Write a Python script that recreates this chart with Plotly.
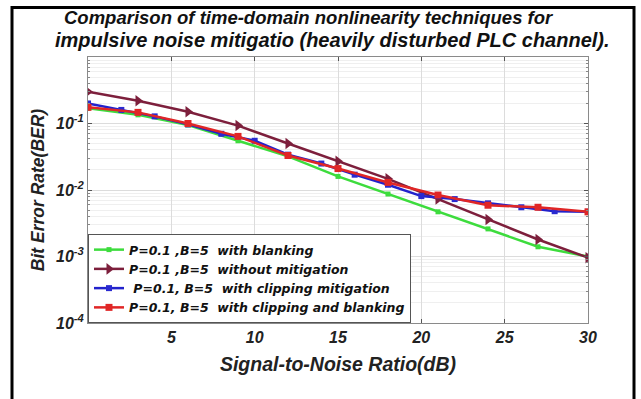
import plotly.graph_objects as go

# SNR grid (dB) and BER curves
snr_3db = [0, 3, 6, 9, 12, 15, 18, 21, 24, 27, 30]
snr_2db = [0, 2, 4, 6, 8, 10, 12, 14, 16, 18, 20, 22, 24, 26, 28, 30]

ber_blanking = [0.17, 0.135, 0.095, 0.055, 0.032, 0.016, 0.0087, 0.0047, 0.0026, 0.0014, 0.001]
ber_no_mitigation = [0.30, 0.22, 0.15, 0.093, 0.05, 0.027, 0.0147, 0.0073, 0.0036, 0.0018, 0.00096]
ber_clipping = [0.20, 0.16, 0.128, 0.097, 0.07, 0.055, 0.034, 0.025, 0.017, 0.012,
                0.0081, 0.0073, 0.0063, 0.0055, 0.0048, 0.0047]
ber_clip_blank = [0.175, 0.147, 0.10, 0.064, 0.033, 0.021, 0.013, 0.0084, 0.0059, 0.0055, 0.0047]

x_ticks = [5, 10, 15, 20, 25, 30]
y_ticks = [1e-4, 1e-3, 1e-2, 1e-1]
y_tick_text = ["10<sup>-4</sup>", "10<sup>-3</sup>", "10<sup>-2</sup>", "10<sup>-1</sup>"]

# minor log ticks 2..9 within each decade
y_minor = [m * 10.0 ** e for e in range(-4, 0) for m in range(2, 10)]

NB = "\u00a0"
names = [
    f"P=0.1 ,B=5{NB} with blanking",
    f"P=0.1 ,B=5{NB} without mitigation",
    f"{NB}P=0.1, B=5{NB} with clipping mitigation",
    f"P=0.1, B=5{NB} with clipping and blanking",
]

FONT = "Liberation Sans, Arial, sans-serif"
LEGEND_FONT = "DejaVu Sans, Liberation Sans, sans-serif"

fig = go.Figure()
fig.add_trace(go.Scatter(x=snr_3db, y=ber_blanking, name=f"<b><i>{names[0]}</i></b>",
                         mode="lines+markers",
                         line=dict(color="#3ddc3d", width=2.5),
                         marker=dict(symbol="square", size=5, color="#3ddc3d")))
fig.add_trace(go.Scatter(x=snr_3db, y=ber_no_mitigation, name=f"<b><i>{names[1]}</i></b>",
                         mode="lines+markers",
                         line=dict(color="#7d1f3c", width=2.5),
                         marker=dict(symbol="triangle-right", size=10, color="#7d1f3c")))
fig.add_trace(go.Scatter(x=snr_2db, y=ber_clipping, name=f"<b><i>{names[2]}</i></b>",
                         mode="lines+markers",
                         line=dict(color="#2222cc", width=2.5),
                         marker=dict(symbol="square", size=6, color="#2a2ad0")))
fig.add_trace(go.Scatter(x=snr_3db, y=ber_clip_blank, name=f"<b><i>{names[3]}</i></b>",
                         mode="lines+markers",
                         line=dict(color="#e02626", width=2.5),
                         marker=dict(symbol="square", size=7, color="#e02626")))

axis_common = dict(
    showline=True, linecolor="#8a8a8a", linewidth=1, mirror="ticks",
    ticks="inside", ticklen=4, tickcolor="#555",
    showgrid=True, gridcolor="#dcdcdc", gridwidth=1, zeroline=False,
    tickfont=dict(family=FONT, size=16, color="#222"),
)

fig.update_xaxes(**axis_common, range=[0, 30], tickvals=x_ticks,
                 ticktext=[f"<b><i>{v}</i></b>" for v in x_ticks],
                 title=dict(text="<b><i>Signal-to-Noise Ratio(dB)</i></b>",
                            font=dict(family=FONT, size=19.5, color="#222"), standoff=12))
fig.update_yaxes(**axis_common, type="log", range=[-4, 0], tickvals=y_ticks,
                 ticktext=[f"<b><i>{t}</i></b>" for t in y_tick_text],
                 minor=dict(tickvals=y_minor, showgrid=True, gridcolor="#efefef",
                            ticks="inside", ticklen=2, tickcolor="#888"),
                 title=dict(text="<b><i>Bit Error Rate(BER)</i></b>",
                            font=dict(family=FONT, size=17.5, color="#222"), standoff=6))

# two-line heading
fig.add_annotation(text="<b><i>Comparison of time-domain nonlinearity techniques for</i></b>",
                   xref="paper", yref="paper", x=(309 - 88) / 500, y=(323 - 17) / 266,
                   xanchor="center", yanchor="middle", showarrow=False,
                   font=dict(family=FONT, size=18.5, color="#111"))
fig.add_annotation(text="<b><i>impulsive noise mitigatio (heavily disturbed PLC channel).</i></b>",
                   xref="paper", yref="paper", x=(332 - 88) / 500, y=(323 - 40) / 266,
                   xanchor="center", yanchor="middle", showarrow=False,
                   font=dict(family=FONT, size=20, color="#111"))

fig.update_layout(
    width=641, height=399,
    margin=dict(l=88, r=53, t=57, b=76),
    paper_bgcolor="white", plot_bgcolor="white",
    legend=dict(x=0, y=0, xanchor="left", yanchor="bottom",
                bgcolor="white", bordercolor="#555", borderwidth=1,
                font=dict(family=LEGEND_FONT, size=12.5, color="#111"),
                itemwidth=30, tracegroupgap=0),
    showlegend=True,
)

# black outer frame around the whole figure
fig.add_shape(type="rect", xref="paper", yref="paper",
              x0=-0.152, x1=1.092, y0=-0.35, y1=1.186,
              line=dict(color="black", width=3), fillcolor="rgba(0,0,0,0)", layer="below")

fig.write_html("out.html")
